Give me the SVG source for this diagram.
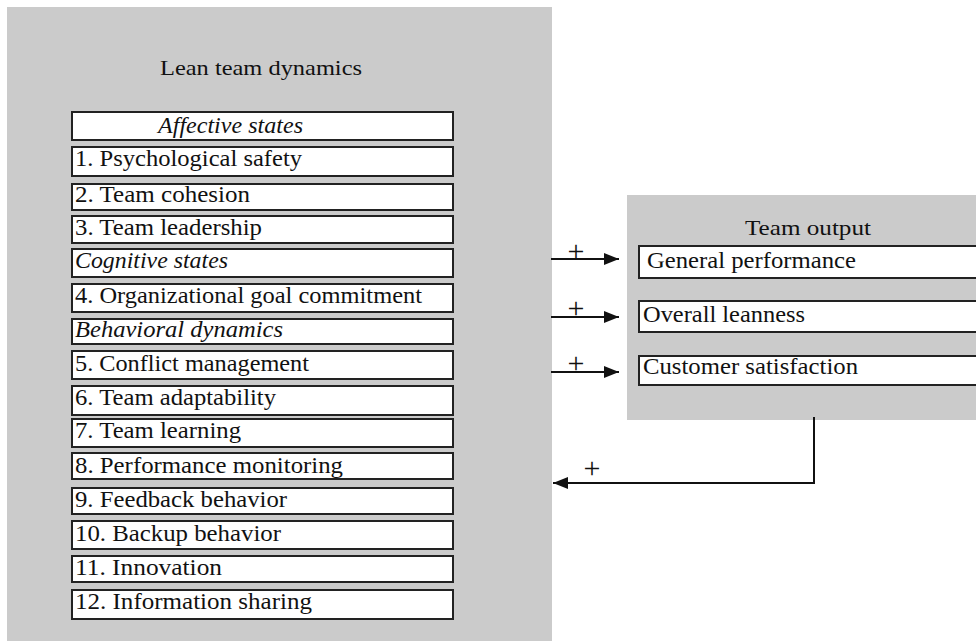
<svg xmlns="http://www.w3.org/2000/svg" width="976" height="641" viewBox="0 0 976 641">
<defs>
<style>
.panel{fill:#cbcbcb}
.box{fill:#fff;stroke:#222;stroke-width:2}
.t{font-family:"Liberation Serif","Times New Roman",serif;font-size:23px;fill:#111}
.i{font-style:italic}
.h{font-family:"Liberation Serif","Times New Roman",serif;font-size:22px;fill:#111}
.p{font-family:"Liberation Serif","Times New Roman",serif;font-size:30px;fill:#111;text-anchor:middle}
.c{fill:none;stroke:#111;stroke-width:2}
</style>
<marker id="ah" markerWidth="15" markerHeight="12" refX="15" refY="6" orient="auto" markerUnits="userSpaceOnUse">
<path d="M0,0 L15,6 L0,12 Z" fill="#111"/>
</marker>
</defs>
<rect width="976" height="641" fill="#fff"/>
<g id="lean-team-dynamics">
<rect class="panel" x="7" y="7" width="545" height="640"/>
<text class="h" x="160" y="75" textLength="202" lengthAdjust="spacingAndGlyphs">Lean team dynamics</text>
</g>
<g id="affective-states"><rect class="box" x="72" y="112" width="381" height="28"/><text class="t i" x="158" y="133" textLength="145" lengthAdjust="spacingAndGlyphs">Affective states</text></g>
<g id="psychological-safety"><rect class="box" x="72" y="147" width="381" height="29"/><text class="t" x="75" y="166" textLength="227" lengthAdjust="spacingAndGlyphs">1. Psychological safety</text></g>
<g id="team-cohesion"><rect class="box" x="72" y="184" width="381" height="26"/><text class="t" x="75" y="202" textLength="175" lengthAdjust="spacingAndGlyphs">2. Team cohesion</text></g>
<g id="team-leadership"><rect class="box" x="72" y="216" width="381" height="27"/><text class="t" x="75" y="235" textLength="187" lengthAdjust="spacingAndGlyphs">3. Team leadership</text></g>
<g id="cognitive-states"><rect class="box" x="72" y="249" width="381" height="28"/><text class="t i" x="75" y="268" textLength="153" lengthAdjust="spacingAndGlyphs">Cognitive states</text></g>
<g id="goal-commitment"><rect class="box" x="72" y="284" width="381" height="28"/><text class="t" x="75" y="303" textLength="347" lengthAdjust="spacingAndGlyphs">4. Organizational goal commitment</text></g>
<g id="behavioral-dynamics"><rect class="box" x="72" y="319" width="381" height="25"/><text class="t i" x="75" y="337" textLength="208" lengthAdjust="spacingAndGlyphs">Behavioral dynamics</text></g>
<g id="conflict-management"><rect class="box" x="72" y="351" width="381" height="28"/><text class="t" x="75" y="371" textLength="234" lengthAdjust="spacingAndGlyphs">5. Conflict management</text></g>
<g id="team-adaptability"><rect class="box" x="72" y="386" width="381" height="29"/><text class="t" x="75" y="405" textLength="201" lengthAdjust="spacingAndGlyphs">6. Team adaptability</text></g>
<g id="team-learning"><rect class="box" x="72" y="419" width="381" height="28"/><text class="t" x="75" y="438" textLength="166" lengthAdjust="spacingAndGlyphs">7. Team learning</text></g>
<g id="performance-monitoring"><rect class="box" x="72" y="453" width="381" height="26"/><text class="t" x="75" y="473" textLength="268" lengthAdjust="spacingAndGlyphs">8. Performance monitoring</text></g>
<g id="feedback-behavior"><rect class="box" x="72" y="488" width="381" height="26"/><text class="t" x="75" y="507" textLength="212" lengthAdjust="spacingAndGlyphs">9. Feedback behavior</text></g>
<g id="backup-behavior"><rect class="box" x="72" y="521" width="381" height="28"/><text class="t" x="75" y="541" textLength="206" lengthAdjust="spacingAndGlyphs">10. Backup behavior</text></g>
<g id="innovation"><rect class="box" x="72" y="556" width="381" height="26"/><text class="t" x="75" y="575" textLength="147" lengthAdjust="spacingAndGlyphs">11. Innovation</text></g>
<g id="information-sharing"><rect class="box" x="72" y="590" width="381" height="29"/><text class="t" x="75" y="609" textLength="237" lengthAdjust="spacingAndGlyphs">12. Information sharing</text></g>
<g id="team-output">
<rect class="panel" x="627" y="195" width="360" height="225"/>
<text class="h" x="745" y="235" textLength="126" lengthAdjust="spacingAndGlyphs">Team output</text>
</g>
<g id="general-performance"><rect class="box" x="639" y="246" width="350" height="32"/><text class="t" x="647" y="268" textLength="209" lengthAdjust="spacingAndGlyphs">General performance</text></g>
<g id="overall-leanness"><rect class="box" x="639" y="301" width="350" height="31"/><text class="t" x="643" y="322" textLength="162" lengthAdjust="spacingAndGlyphs">Overall leanness</text></g>
<g id="customer-satisfaction"><rect class="box" x="639" y="356" width="350" height="29"/><text class="t" x="643" y="374" textLength="215" lengthAdjust="spacingAndGlyphs">Customer satisfaction</text></g>
<g id="connectors">
<line class="c" x1="551" y1="259" x2="619" y2="259" marker-end="url(#ah)"/>
<line class="c" x1="551" y1="317" x2="619" y2="317" marker-end="url(#ah)"/>
<line class="c" x1="551" y1="372" x2="619" y2="372" marker-end="url(#ah)"/>
<polyline class="c" points="814,417 814,483 553,483" marker-end="url(#ah)"/>
<text class="p" x="576" y="261">+</text>
<text class="p" x="576" y="318">+</text>
<text class="p" x="576" y="373">+</text>
<text class="p" x="592" y="478">+</text>
</g>
</svg>
